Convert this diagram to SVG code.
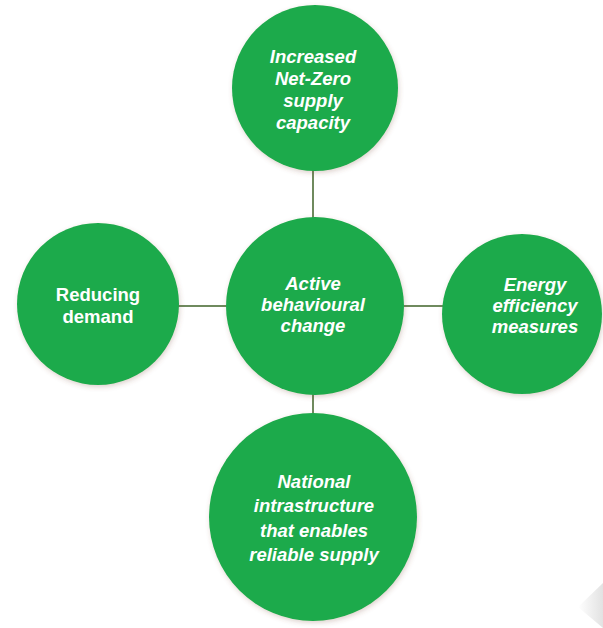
<svg xmlns="http://www.w3.org/2000/svg" width="603" height="628" viewBox="0 0 603 628">
  <style>
    .node { fill: #1aaa4c; filter: url(#shadow); }
    .lbl { fill: #ffffff; font-family: "Liberation Sans", Arial, sans-serif; font-weight: bold; font-style: italic; font-size: 18.5px; text-anchor: middle; }
    .plain { font-style: normal; }
    .conn { stroke: #6f8a5e; stroke-width: 2; fill: none; }
  </style>
  <defs>
    <filter id="shadow" x="-20%" y="-20%" width="140%" height="140%">
      <feGaussianBlur in="SourceAlpha" stdDeviation="2.5"/>
      <feOffset dx="1" dy="2" result="b"/>
      <feFlood flood-color="#7a4a3a" flood-opacity="0.25"/>
      <feComposite in2="b" operator="in"/>
      <feMerge><feMergeNode/><feMergeNode in="SourceGraphic"/></feMerge>
    </filter>
    <linearGradient id="curl" x1="1" y1="0.5" x2="0" y2="0.5">
      <stop offset="0" stop-color="#e2e2e2"/>
      <stop offset="1" stop-color="#ffffff"/>
    </linearGradient>
  </defs>
  <rect width="603" height="628" fill="#ffffff"/>
  <polygon points="603,583 578,607 603,628" fill="url(#curl)"/>

  <g id="connectors">
    <line class="conn" x1="313" y1="170" x2="313" y2="220"/>
    <line class="conn" x1="313" y1="392" x2="313" y2="414"/>
    <line class="conn" x1="178" y1="306" x2="226" y2="306"/>
    <line class="conn" x1="404" y1="306" x2="444" y2="306"/>
  </g>

  <g id="node-supply">
    <circle class="node" cx="315" cy="88" r="83"/>
    <text class="lbl"><tspan x="313" y="63">Increased</tspan><tspan x="313" y="85">Net-Zero</tspan><tspan x="313" y="107">supply</tspan><tspan x="313" y="129">capacity</tspan></text>
  </g>

  <g id="node-demand">
    <circle class="node" cx="98" cy="304" r="81"/>
    <text class="lbl plain"><tspan x="98" y="301">Reducing</tspan><tspan x="98" y="323">demand</tspan></text>
  </g>

  <g id="node-behaviour">
    <circle class="node" cx="315" cy="306" r="89"/>
    <text class="lbl"><tspan x="313" y="290">Active</tspan><tspan x="313" y="311">behavioural</tspan><tspan x="313" y="332">change</tspan></text>
  </g>

  <g id="node-efficiency">
    <circle class="node" cx="522" cy="314" r="80"/>
    <text class="lbl"><tspan x="535" y="291">Energy</tspan><tspan x="535" y="312">efficiency</tspan><tspan x="535" y="333">measures</tspan></text>
  </g>

  <g id="node-infrastructure">
    <circle class="node" cx="313" cy="517" r="104"/>
    <text class="lbl"><tspan x="314" y="488">National</tspan><tspan x="314" y="512">intrastructure</tspan><tspan x="314" y="537">that enables</tspan><tspan x="314" y="561">reliable supply</tspan></text>
  </g>
</svg>
